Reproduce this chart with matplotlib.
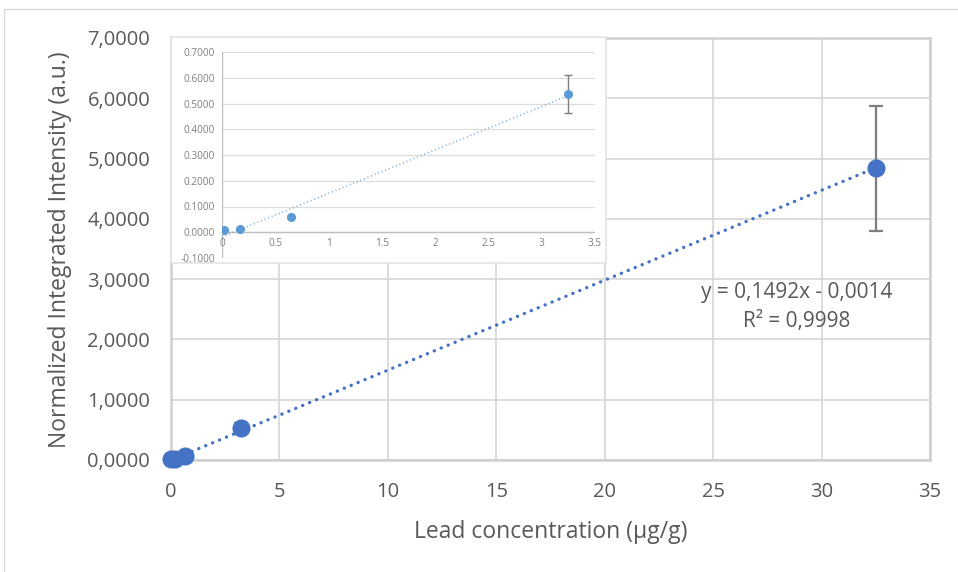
import numpy as np
import matplotlib
matplotlib.use("Agg")
import matplotlib.pyplot as plt
from matplotlib.patches import Rectangle
from matplotlib.ticker import FuncFormatter

# ---- data ----
conc = [0.02, 0.17, 0.65, 3.25, 32.5]
intensity = [0.009, 0.014, 0.059, 0.537, 4.84]
err = [0.002, 0.003, 0.005, 0.075, 1.04]
fit_slope = 0.1492
fit_intercept = -0.0014
eq_text = "y = 0,1492x - 0,0014"
r2_text = "R² = 0,9998"
x_ticks = [0, 5, 10, 15, 20, 25, 30, 35]
y_ticks = [0, 1, 2, 3, 4, 5, 6, 7]
inset_x_ticks = [0, 0.5, 1, 1.5, 2, 2.5, 3, 3.5]
inset_x_labels = ["0", "0.5", "1", "1.5", "2", "2.5", "3", "3.5"]
inset_y_ticks = [-0.1, 0, 0.1, 0.2, 0.3, 0.4, 0.5, 0.6, 0.7]
inset_n = 4  # points shown in inset

plt.rcParams['font.family'] = ['Open Sans', 'DejaVu Sans']
TXT = '#595959'
GRID = '#D9D9D9'
BLUE = '#4472C4'
LBLUE = '#5B9BD5'

W, H = 958, 572
fig = plt.figure(figsize=(W / 100, H / 100), dpi=100)

# outer chart-area frame
fig.add_artist(Rectangle((4 / W, -0.01), 1.0, 1 - 9 / H + 0.01, transform=fig.transFigure,
                         fill=False, edgecolor='#D9D9D9', linewidth=1.0))

def fpos(x0, y0, x1, y1):
    return [x0 / W, 1 - y1 / H, (x1 - x0) / W, (y1 - y0) / H]

ax = fig.add_axes(fpos(171, 38, 930, 460))
ax.set_xlim(0, 35)
ax.set_ylim(0, 7)
ax.set_xticks(x_ticks)
ax.set_yticks(y_ticks)
ax.yaxis.set_major_formatter(FuncFormatter(lambda v, p: f"{v:.4f}".replace('.', ',')))
ax.grid(True, color=GRID, linewidth=1.3)
ax.set_axisbelow(True)
for s in ax.spines.values():
    s.set_color('#D0D0D0')
    s.set_linewidth(1.8)
ax.tick_params(length=0, labelsize=14.5, colors=TXT)
ax.tick_params(axis='y', pad=15)
ax.tick_params(axis='x', pad=16)

xf = np.array([0, conc[-1]])
ax.plot(xf, fit_slope * xf + fit_intercept, color=BLUE, linewidth=2.4,
        linestyle=(0, (0.05, 2.2)), dash_capstyle='round', zorder=3, clip_on=False)
ax.errorbar(conc, intensity, yerr=err, fmt='none', ecolor='#7F7F7F', elinewidth=1.6,
            capsize=5, capthick=1.6, zorder=4)
ax.plot(conc, intensity, 'o', color=BLUE, markersize=12, zorder=5, clip_on=False)

fig.text(60 / W, 1 - 250 / H, "Normalized Integrated Intensity (a.u.)", rotation=90,
         fontsize=16.5, color=TXT, ha='center', va='center')
fig.text(551 / W, 1 - 532 / H, "Lead concentration (µg/g)", fontsize=16.5, color=TXT,
         ha='center', va='center')

fig.text(797 / W, 1 - 293 / H, eq_text, fontsize=15, color=TXT, ha='center', va='center')
fig.text(797 / W, 1 - 322 / H, r2_text, fontsize=15, color=TXT, ha='center', va='center')

# inset background box
box = fig.add_axes(fpos(171, 37, 606, 263))
box.set_xticks([]); box.set_yticks([])
box.set_facecolor('white')
for s in box.spines.values():
    s.set_color('#E3E3E3')
    s.set_linewidth(1.2)
box.set_zorder(5)

ins = fig.add_axes(fpos(222, 52, 595, 258))
ins.set_zorder(6)
ins.set_facecolor('white')
ins.set_xlim(0, 3.5)
ins.set_ylim(-0.1, 0.7)
ins.set_yticks(inset_y_ticks)
ins.yaxis.set_major_formatter(FuncFormatter(lambda v, p: f"{v:.4f}" if abs(v) > 1e-9 else "0.0000"))
ins.grid(True, color='#DDDDDD', linewidth=0.9)
ins.set_axisbelow(True)
for s in ins.spines.values():
    s.set_visible(False)
ins.axhline(0, color='#BFBFBF', linewidth=1.0, zorder=1)
ins.axvline(0, color='#BFBFBF', linewidth=1.0, zorder=1)
ins.tick_params(length=0, labelsize=7.2, colors='#808080', pad=5)
ins.set_xticks([])
for xv, lbl in zip(inset_x_ticks, inset_x_labels):
    ins.text(xv, -0.022, lbl, fontsize=7.2, color='#808080', ha='center', va='top')

cx = np.array(conc[:inset_n]); cy = np.array(intensity[:inset_n])
k, b = np.polyfit(cx, cy, 1)
xi = np.array([0, cx[-1]])
ins.plot(xi, k * xi + b, color=LBLUE, linewidth=1.2, linestyle=(0, (0.5, 1.8)), zorder=3)
ins.errorbar(cx, cy, yerr=err[:inset_n], fmt='o', color=LBLUE, markersize=5.5,
             ecolor='#7F7F7F', elinewidth=1.0, capsize=3, capthick=1.0, zorder=4)

fig.savefig("out.png", dpi=100)
